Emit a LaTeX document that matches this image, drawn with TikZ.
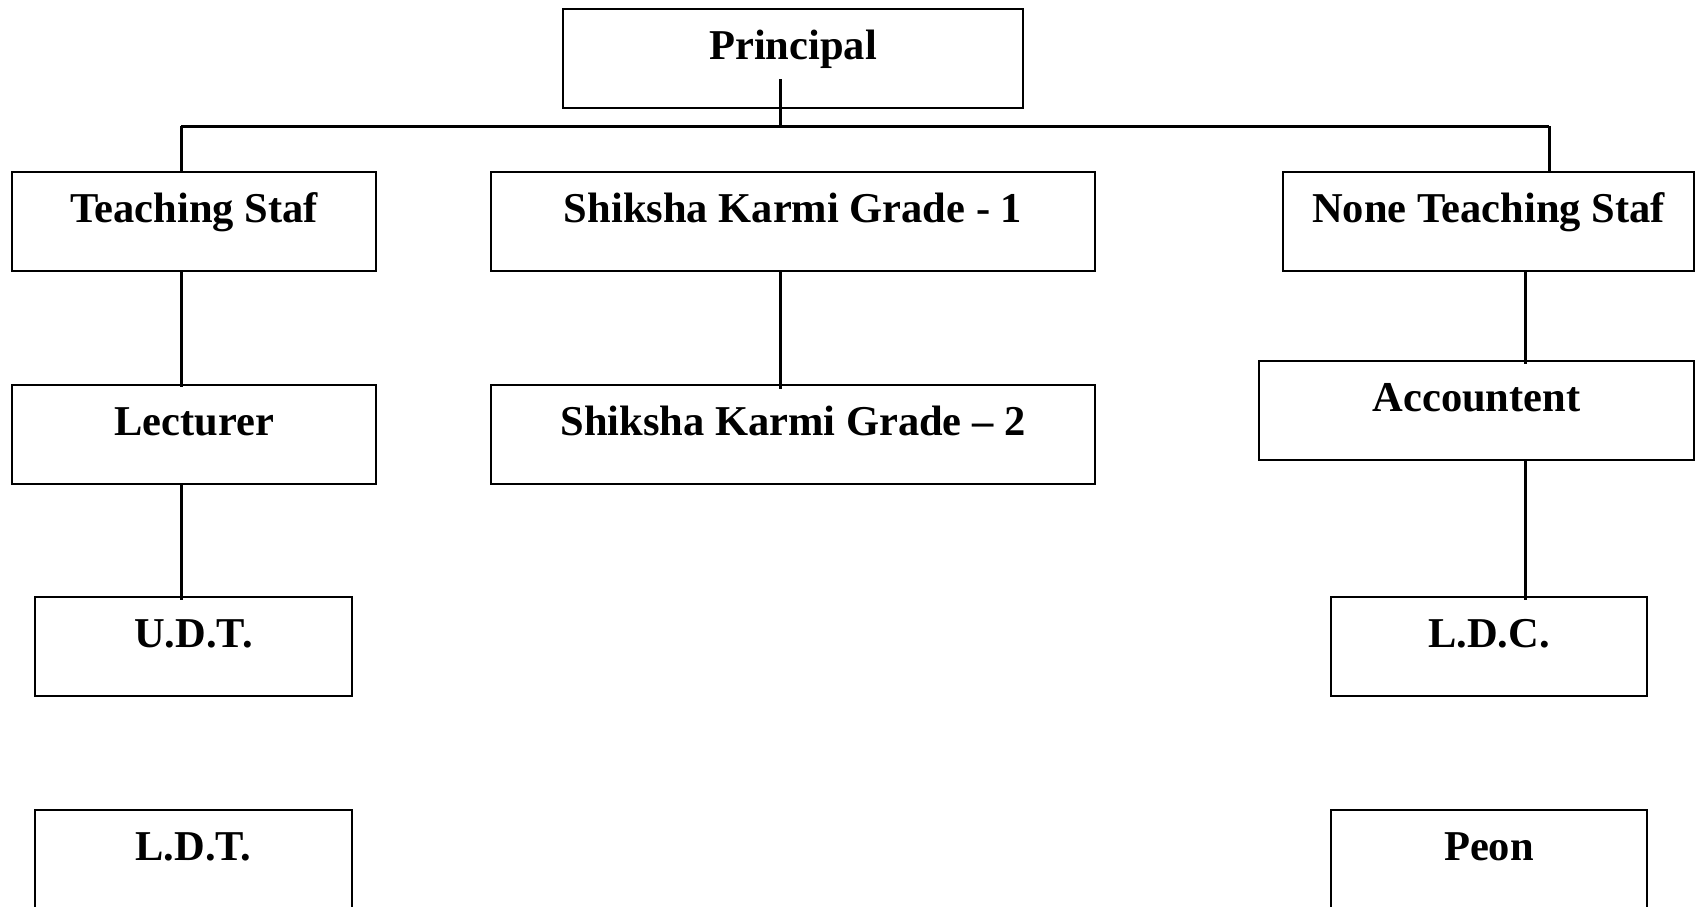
\documentclass[tikz,border=0pt]{standalone}
\usepackage{fontspec}
\setmainfont{Liberation Serif}
\usetikzlibrary{positioning, calc}

\begin{document}
\begin{tikzpicture}[
					x=1pt, y=-1pt,
					post/.style={draw, line width=1.4pt, inner xsep=0pt, inner ysep=0pt, outer sep=0pt,
						text height=50pt, text depth=49pt, align=center,
						font={\fontsize{42.5pt}{50pt}\selectfont\bfseries}},
					link/.style={line width=3pt}
					]
					\useasboundingbox (0,0) rectangle (1695,906);
					% boxes
					\node[post, minimum width=460pt] (principal) at (793,58.5) {Principal};
					\node[post, minimum width=364pt] (teach) at (194,221.5) {Teaching Staf};
					\node[post, minimum width=604pt] (grade1) at (793,221.5) {Shiksha Karmi Grade - 1};
					\node[post, minimum width=411pt] (nonteach) at (1488.5,221.5) {None Teaching Staf};
					\node[post, minimum width=364pt] (lect) at (194,434.5) {Lecturer};
					\node[post, minimum width=604pt] (grade2) at (793,434.5) {Shiksha Karmi Grade -- 2};
					\node[post, minimum width=435pt] (account) at (1476.5,410.5) {Accountent};
					\node[post, minimum width=317pt] (udt) at (193.5,646.5) {U.D.T.};
					\node[post, minimum width=316pt] (ldc) at (1489,646.5) {L.D.C.};
					\node[post, minimum width=317pt] (ldt) at (193.5,859.5) {L.D.T.};
					\node[post, minimum width=316pt] (peon) at (1489,859.5) {Peon};
					% bus line
					\coordinate (busL) at (181,126);
					\coordinate (busM) at (780,126);
					\coordinate (busR) at (1549,126);
					\coordinate (rline) at (1525,0);
					\draw[link] ([yshift=29pt]principal.south -| busM) -- (busM);
					\draw[link] (busL) -- (busR);
					\draw[link] (busL) -- (busL |- teach.north);
					\draw[link] (busR) -- ([yshift=-1pt]busR |- nonteach.north);
					% columns
					\draw[link] (teach.south -| busL) -- ([yshift=-2pt]lect.north -| busL);
					\draw[link] (lect.south -| busL) -- ([yshift=-3pt]udt.north -| busL);
					\draw[link] (grade1.south -| busM) -- ([yshift=-4pt]grade2.north -| busM);
					\draw[link] (nonteach.south -| rline) -- ([yshift=-3pt]account.north -| rline);
					\draw[link] (account.south -| rline) -- ([yshift=-3pt]ldc.north -| rline);
				\end{tikzpicture}
\end{document}
